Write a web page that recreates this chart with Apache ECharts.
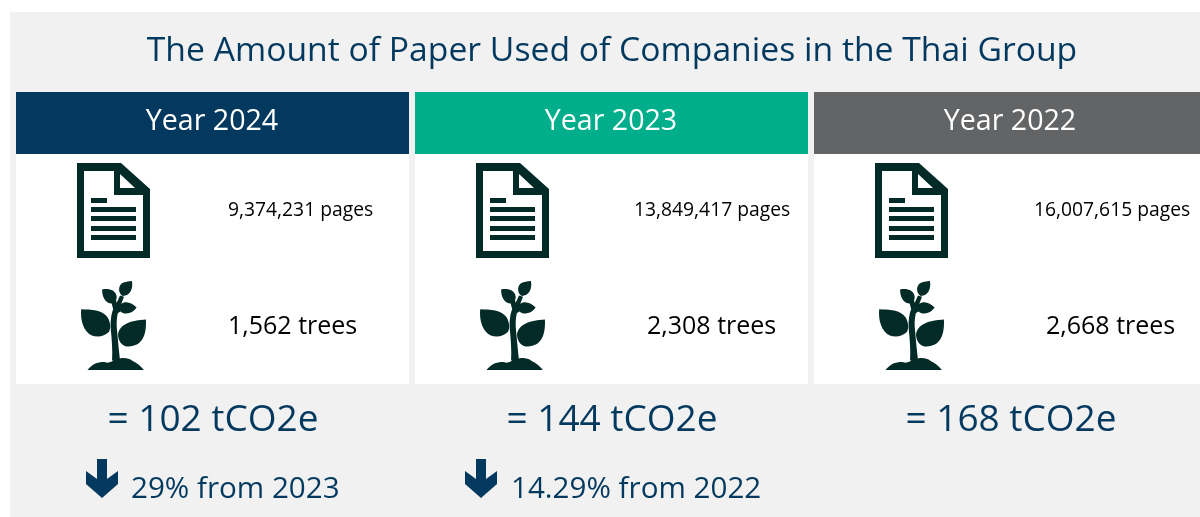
<!DOCTYPE html>
<html>
<head>
<meta charset="utf-8">
<style>html,body{margin:0;padding:0;background:#fff}#c{width:1200px;height:517px}</style>
<script src="https://cdn.jsdelivr.net/npm/echarts@6/dist/echarts.min.js"></script>
</head>
<body>
<div id="c"></div>
<script>
const titleText = 'The Amount of Paper Used of Companies in the Thai Group';
const years = ['Year 2024', 'Year 2023', 'Year 2022'];
const pageCounts = ['9,374,231 pages', '13,849,417 pages', '16,007,615 pages'];
const treeCounts = ['1,562 trees', '2,308 trees', '2,668 trees'];
const emissions = ['= 102 tCO2e', '= 144 tCO2e', '= 168 tCO2e'];
const changes = ['29% from 2023', '14.29% from 2022', null];

const NAVY = '#03395f', GREEN = '#00ae8c', GREY = '#636466', PANEL = '#f1f1f1', ICON = '#022b27';
const headerColors = [NAVY, GREEN, GREY];
const FONT = '"Open Sans","Noto Sans",sans-serif';

// Column geometry
const colX = [16, 415, 814];
const colW = [393, 393, 386];
const pageLabelX = [228, 634, 1034];
const treeLabelX = [228, 647, 1046];
const changeLabelX = [131, 511, null];
const arrowX = [86, 465, null];

// Document glyph, drawn in its own 73x95 box; holes wind the opposite way
const docPath =
  'M0 0L44 0L73 26L73 95L0 95Z' +
  'M7 8L7 88L66 88L66 32L37 32L37 8Z' +
  'M43 11L43 25L58 25Z' +
  'M14 35L14 40L30 40L30 35Z' +
  'M14 44L14 49L59 49L59 44Z' +
  'M14 53L14 58L59 58L59 53Z' +
  'M14 63L14 68L59 68L59 63Z' +
  'M14 72L14 77L59 77L59 72Z';

// Seedling glyph, outlined at three times its final size: stem, branches, leaves, soil
const plantPath =
  'M156 270C158 240 155 205 152 175C150 145 156 115 170 98L180 76L192 80L182 106C172 125 168 150 171 180C173 210 177 240 180 270Z' +
  'M165 112L184 102L184 122L168 132Z' +
  'M152 88L168 90L174 115L160 120Z' +
  'M63 117C92 118 128 118 143 142C152 158 152 175 147 184C134 198 112 202 95 195C70 184 60 150 63 117Z' +
  'M258 148C260 190 250 228 205 228C188 228 176 215 174 195C176 162 215 150 258 148Z' +
  'M216 33C220 58 210 76 188 78C174 70 174 48 186 40C195 35 205 34 216 33Z' +
  'M126 58C146 54 168 60 170 80C170 92 163 98 153 100C134 98 126 78 126 58Z' +
  'M230 112C218 130 194 136 180 122C176 112 180 100 192 97C206 94 220 102 230 112Z' +
  'M82 298C94 282 116 270 136 275C146 280 158 270 168 267C185 260 205 261 218 271C232 277 244 287 252 298Z';

const arrowPath = 'M11 0L21 0L21 20L32 12L32 25L16 39L0 25L0 12L11 20Z';

const el = [];
const glyphs = [];
const rect = (x, y, w, h, fill, z) => el.push({ type: 'rect', z: z || 1, silent: true, shape: { x, y, width: w, height: h }, style: { fill } });
const label = (text, x, y, size, fill, align) => el.push({
  type: 'text', z: 5, silent: true, x, y,
  style: { text, fill, font: size + 'px ' + FONT, align: align || 'left', verticalAlign: 'middle' }
});

rect(10, 12, 1190, 505, PANEL, 0);
label(titleText, 612, 51, 33.7, NAVY, 'center');

years.forEach((year, i) => {
  const x = colX[i], w = colW[i];
  const dx = x - 16;
  rect(x, 92, w, 62, headerColors[i]);
  rect(x, 154, w, 230, '#ffffff');
  label(year, x + 196, 122, 28.6, '#ffffff', 'center');

  glyphs.push({ d: docPath, x: 77 + dx, y: 163, w: 73, h: 95, fill: ICON });
  glyphs.push({ d: plantPath, x: 81 + dx, y: 281, w: 65, h: 89, fill: ICON });

  label(pageCounts[i], pageLabelX[i], 211, 19.3, '#000000');
  label(treeCounts[i], treeLabelX[i], 327, 25, '#000000');
  label(emissions[i], x + 197, 420, 37, NAVY, 'center');

  if (changes[i]) {
    glyphs.push({ d: arrowPath, x: arrowX[i], y: 459, w: 32, h: 39, fill: NAVY });
    label(changes[i], changeLabelX[i], 490, 29.6, NAVY);
  }
});

const chart = echarts.init(document.getElementById('c'), null, { renderer: 'canvas' });
chart.setOption({
  animation: false,
  graphic: { elements: el },
  series: [{
    type: 'custom',
    coordinateSystem: 'none',
    silent: true,
    z: 10,
    data: glyphs.map((g, i) => [i]),
    renderItem: (params) => {
      const g = glyphs[params.dataIndex];
      return {
        type: 'path',
        shape: { pathData: g.d, layout: 'cover', x: g.x, y: g.y, width: g.w, height: g.h },
        style: { fill: g.fill }
      };
    }
  }]
});
</script>
</body>
</html>
